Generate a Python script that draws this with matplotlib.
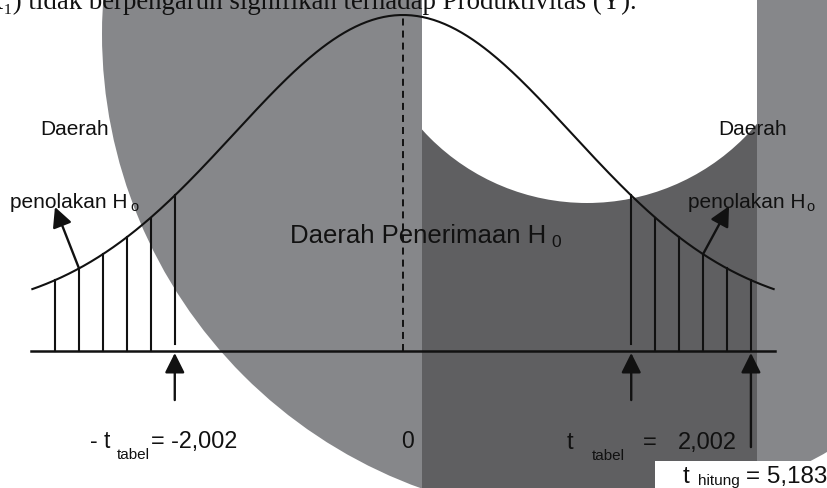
import numpy as np
import matplotlib.pyplot as plt
from matplotlib.patches import Circle, Rectangle

# values shown on the diagram
t_table = 2.002
t_count = 5.183
center = 0
hatch_step = 0.21
n_hatch = 6
curve_span = 3.26
t_count_pos = t_table + (n_hatch - 1) * hatch_step   # schematic position, not to scale

# bell shape (relative height, baseline = 0, peak = 1)
bell_floor = 0.104
bell_sigma = 1.48

header = "X\u2081) tidak berpengaruh signifikan terhadap Produktivitas (Y)."
side_top = "Daerah"
side_bottom = "penolakan H"
middle_label = "Daerah Penerimaan H"

MID = "#86878a"
DARK = "#5f5f61"
INK = "#111111"


def bell(t):
    return bell_floor + (1 - bell_floor) * np.exp(-np.asarray(t) ** 2 / (2 * bell_sigma ** 2))


def comma(v):
    return f'{v:.3f}'.replace('.', ',')


fig = plt.figure(figsize=(8.28, 4.88), dpi=100)

# background decoration, pixel coordinates
bg = fig.add_axes([0, 0, 1, 1])
bg.set_xlim(0, 828)
bg.set_ylim(488, 0)
bg.axis('off')
outer = Circle((585, 34), 483, facecolor=MID, edgecolor='none', zorder=0)
bg.add_patch(outer)
band = Rectangle((422, -5), 335, 500, facecolor=DARK, edgecolor='none', zorder=1)
bg.add_patch(band)
band.set_clip_path(outer)
hole = Circle((587, -19), 222, facecolor='white', edgecolor='none', zorder=2)
bg.add_patch(hole)
hole.set_clip_path(band)
bg.add_patch(Rectangle((655, 461), 180, 30, facecolor='white', edgecolor='none', zorder=3))

# diagram in t units
ax = fig.add_axes([0, 0, 1, 1])
ax.patch.set_alpha(0)
ax.set_xlim(-403 / 114, 425 / 114)
ax.set_ylim(-137 / 336, 351 / 336)
ax.axis('off')

t = np.linspace(-curve_span, curve_span, 400)
ax.plot(t, bell(t), color=INK, lw=1.5, solid_capstyle='butt')
ax.plot([-curve_span, curve_span], [0, 0], color=INK, lw=1.8)
ax.plot([center, center], [0, 1.0], color=INK, lw=1.4, ls=(0, (3.6, 2.6)))

left_t = [-t_table - i * hatch_step for i in range(n_hatch)]
right_t = [t_table + i * hatch_step for i in range(n_hatch)]
for i, (lt, rt) in enumerate(zip(left_t, right_t)):
    bottom = 0.02 if i == 0 else 0
    ax.plot([lt, lt], [bottom, bell(lt)], color=INK, lw=1.5)
    ax.plot([rt, rt], [bottom, bell(rt)], color=INK, lw=1.5)

head = dict(arrowstyle='-|>,head_length=0.6,head_width=0.3', color=INK, lw=1.7,
            mutation_scale=20, shrinkA=0, shrinkB=0)
for x0, tail in [(-t_table, -0.146), (t_table, -0.146), (t_count_pos, -0.286)]:
    ax.annotate('', xy=(x0, -0.006), xytext=(x0, tail), arrowprops=head)
ax.annotate('', xy=(-3.053, 0.4286), xytext=(left_t[4], bell(left_t[4])), arrowprops=head)
ax.annotate('', xy=(2.86, 0.431), xytext=(right_t[3], bell(right_t[3])), arrowprops=head)

# texts (pixel positions)
sans = ['Liberation Sans', 'DejaVu Sans']
kw = dict(va='baseline', color=INK, family=sans, zorder=5)
bg.text(637, 9, header, ha='right', va='baseline', color=INK, fontsize=19.4,
        family=['Liberation Serif', 'DejaVu Serif'], zorder=5)

for x in (40, 718):
    bg.text(x, 135, side_top, fontsize=15, **kw)
for x, xs in ((10, 130), (688, 806)):
    bg.text(x, 208, side_bottom, fontsize=15, **kw)
    bg.text(xs, 211, 'o', fontsize=10.5, **kw)

bg.text(290, 243, middle_label, fontsize=18.5, **kw)
bg.text(551, 247, '0', fontsize=12.5, **kw)

bg.text(90, 448, '- t', fontsize=16.5, **kw)
bg.text(117, 459, 'tabel', fontsize=11, **kw)
bg.text(151, 448, '= -' + comma(t_table), fontsize=16.8, **kw)

bg.text(408, 448, str(center), fontsize=16.5, ha='center', **kw)

bg.text(567, 449, 't', fontsize=17, **kw)
bg.text(592, 460, 'tabel', fontsize=11, **kw)
bg.text(643, 449, '=', fontsize=17, **kw)
bg.text(678, 449, comma(t_table), fontsize=17, **kw)

bg.text(683, 483, 't', fontsize=17.5, **kw)
bg.text(698, 485, 'hitung', fontsize=11, **kw)
bg.text(746, 483, '= ' + comma(t_count), fontsize=17.5, **kw)

fig.savefig('out.png', dpi=100)
